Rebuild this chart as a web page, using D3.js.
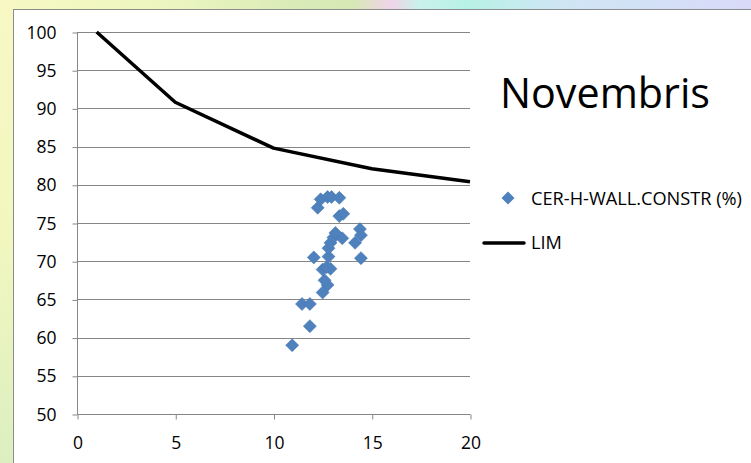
<!DOCTYPE html>
<html><head><meta charset="utf-8">
<script src="https://cdn.jsdelivr.net/npm/d3@7"></script>
<style>html,body{margin:0;padding:0;overflow:hidden;background:#fff}</style>
</head><body>
<svg id="c" width="751" height="463"></svg>
<script>
const title = "Novembris";
const seriesNames = ["CER-H-WALL.CONSTR (%)", "LIM"];
const xTicks = [0, 5, 10, 15, 20];
const yTicks = [50, 55, 60, 65, 70, 75, 80, 85, 90, 95, 100];
const limX = [1, 5, 10, 15, 20];
const limY = [100, 90.8, 84.8, 82.1, 80.4];
const ptsX = [10.95, 11.85, 11.45, 11.85, 12.05, 12.5, 12.75, 12.6, 12.5, 12.9, 12.7, 12.8, 12.8, 12.9, 13.05, 13.15, 13.5, 12.25, 12.4, 12.75, 12.95, 13.35, 13.35, 13.55, 14.4, 14.45, 14.15, 14.45];
const ptsY = [59.0, 61.5, 64.4, 64.4, 70.5, 65.9, 66.9, 67.5, 68.9, 69.0, 69.2, 70.6, 71.7, 72.4, 73.1, 73.7, 73.0, 77.0, 78.1, 78.4, 78.4, 78.3, 75.9, 76.2, 74.2, 73.4, 72.4, 70.4];

const svg = d3.select("#c");
const defs = svg.append("defs");
const gTop = defs.append("linearGradient").attr("id","gt").attr("x1","0").attr("x2","1").attr("y1","0").attr("y2","0");
[["0%","#f7f8c4"],["20%","#eef7c0"],["40%","#d9ebb8"],["47%","#d6e8b4"],["52%","#f0d4e8"],["56%","#c8f2ec"],["62%","#b8f2e6"],["75%","#cfe6f5"],["100%","#d8daf8"]]
  .forEach(([o,c])=>gTop.append("stop").attr("offset",o).attr("stop-color",c));
const gLeft = defs.append("linearGradient").attr("id","gl").attr("x1","0").attr("x2","0").attr("y1","0").attr("y2","1");
[["0%","#f7f8c4"],["50%","#f2f7bf"],["100%","#dcefc0"]].forEach(([o,c])=>gLeft.append("stop").attr("offset",o).attr("stop-color",c));

svg.append("rect").attr("x",0).attr("y",0).attr("width",751).attr("height",10).attr("fill","url(#gt)");
svg.append("rect").attr("x",0).attr("y",0).attr("width",13).attr("height",463).attr("fill","url(#gl)");
svg.append("rect").attr("x",13.5).attr("y",9.5).attr("width",760).attr("height",470).attr("fill","#fff").attr("stroke","#8c8c8c").attr("stroke-width",1);

const L = 77, R = 470, T = 32, B = 414;
const x = d3.scaleLinear().domain([0,20]).range([L,R]);
const y = d3.scaleLinear().domain([50,100]).range([B,T]);
const font = "'Open Sans', 'Liberation Sans', Arial, sans-serif";

function fit(sel, w) {
  const n = sel.node(); const fs = +sel.attr("font-size");
  const cur = n.getComputedTextLength();
  if (cur > 0) sel.attr("font-size", (fs * w / cur).toFixed(2));
}

// gridlines
svg.append("g").selectAll("line").data(yTicks.filter(v=>v>50)).join("line")
  .attr("x1",L).attr("x2",R).attr("y1",d=>Math.round(y(d))+0.5).attr("y2",d=>Math.round(y(d))+0.5)
  .attr("stroke","#868686").attr("stroke-width",1);

// axes
const yAxis = d3.axisLeft(y).tickValues(yTicks).tickSize(5).tickPadding(16);
const gy = svg.append("g").attr("transform",`translate(${L+0.5},0.5)`).call(yAxis);
const xAxis = d3.axisBottom(x).tickValues(xTicks).tickSize(5).tickPadding(17);
const gx = svg.append("g").attr("transform",`translate(0.5,${B+0.5})`).call(xAxis);
[gx,gy].forEach(g=>{
  g.select(".domain").attr("stroke","#868686");
  g.selectAll(".tick line").attr("stroke","#868686");
  g.selectAll("text").attr("font-family",font).attr("font-size",17.5).attr("fill","#000");
});
gy.select(".domain").attr("d",`M0,${T}V${B}`);
gx.select(".domain").attr("d",`M${L},0H${R}`);

// LIM line
const line = d3.line().x((d,i)=>x(limX[i])).y((d,i)=>y(limY[i]));
svg.append("path").datum(limX).attr("d",line).attr("fill","none").attr("stroke","#000").attr("stroke-width",3.5).attr("stroke-linejoin","round");

// points
const diamond = "M0,-6.5L6.5,0L0,6.5L-6.5,0Z";
svg.append("g").selectAll("path").data(ptsX).join("path")
  .attr("transform",(d,i)=>`translate(${x(d)},${y(ptsY[i])})`)
  .attr("d",diamond).attr("fill","#4f81bd").attr("stroke","#4a7ab5").attr("stroke-width",0.6);

// title
const t = svg.append("text").attr("x",500).attr("y",108).attr("font-family",font).attr("font-size",44).attr("fill","#000").text(title);
fit(t, 210);

// legend
svg.append("path").attr("transform","translate(508,198)").attr("d",diamond).attr("fill","#4f81bd");
const l1 = svg.append("text").attr("x",531).attr("y",205).attr("font-family",font).attr("font-size",15.5).attr("fill","#000").text(seriesNames[0]);
fit(l1, 211);
svg.append("line").attr("x1",484).attr("x2",524).attr("y1",243).attr("y2",243).attr("stroke","#000").attr("stroke-width",3.5).attr("stroke-linecap","round");
svg.append("text").attr("x",531).attr("y",249).attr("font-family",font).attr("font-size",l1.attr("font-size")).attr("fill","#000").text(seriesNames[1]);
</script>
</body></html>
